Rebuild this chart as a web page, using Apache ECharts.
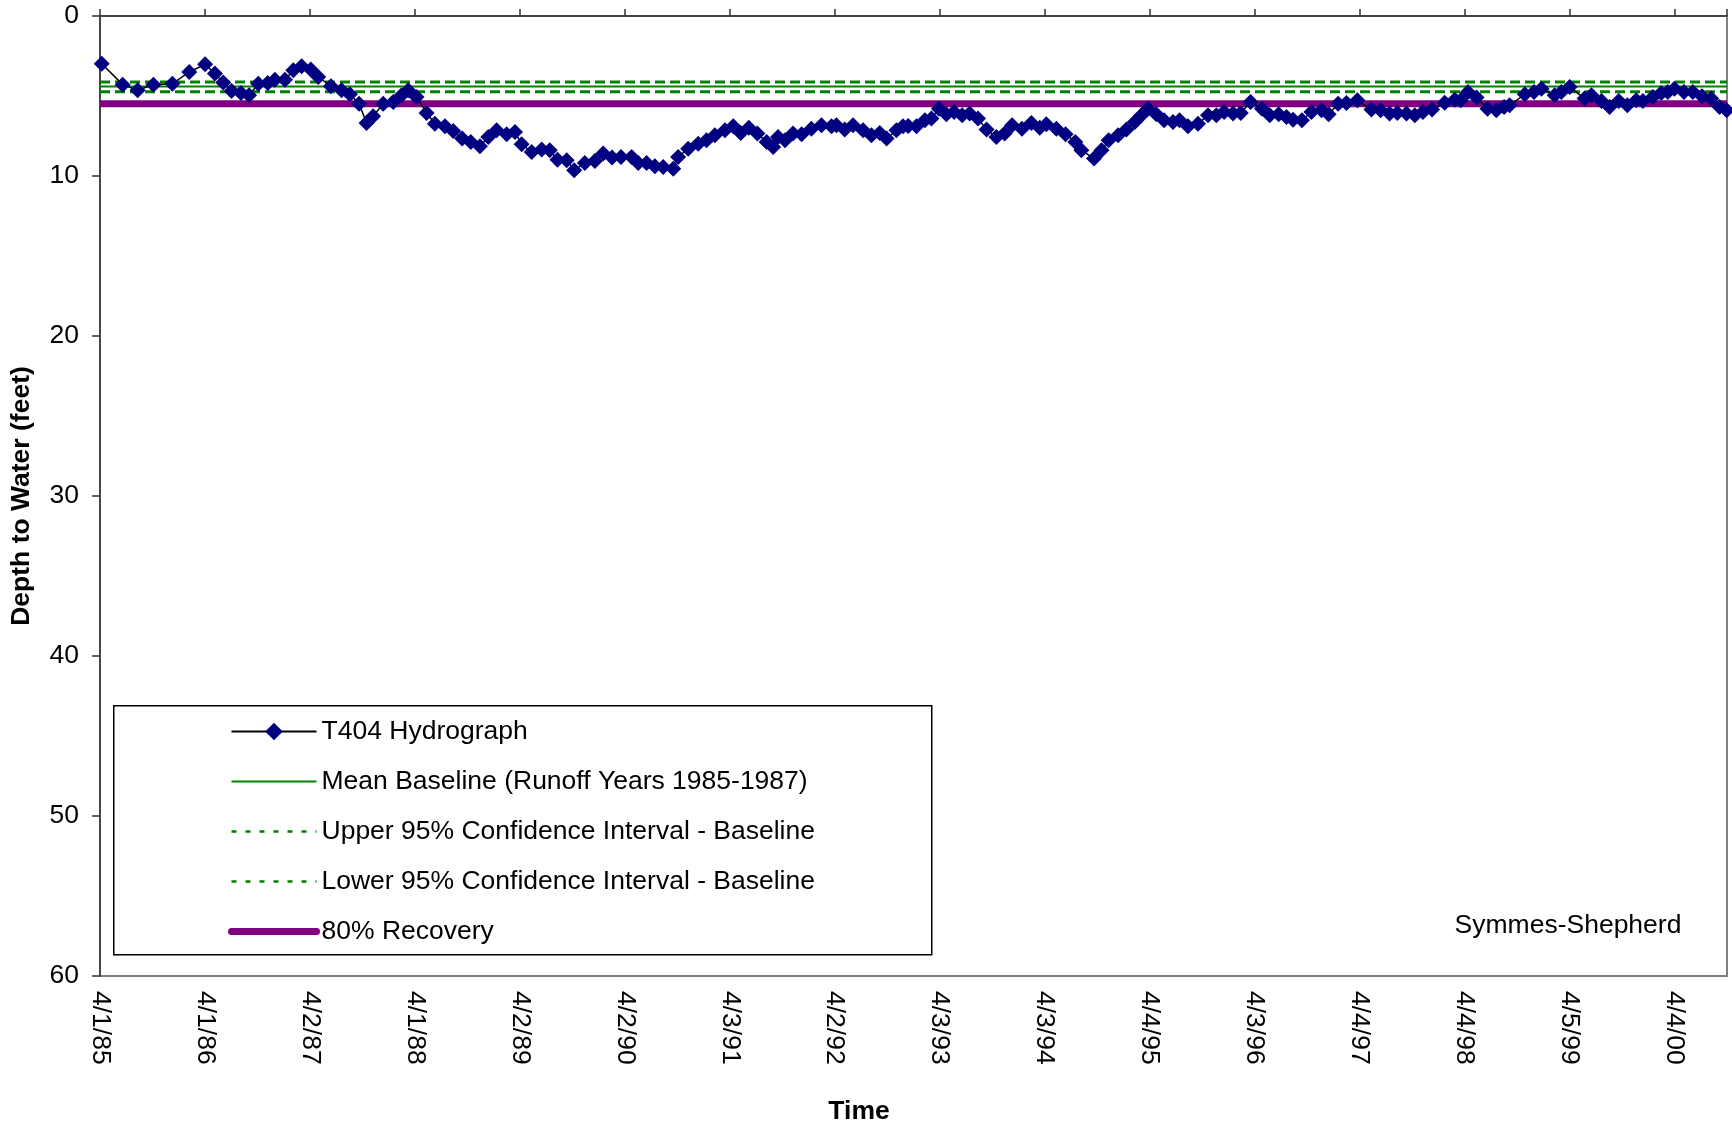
<!DOCTYPE html>
<html>
<head>
<meta charset="utf-8">
<script src="https://cdn.jsdelivr.net/npm/echarts@6/dist/echarts.min.js"></script>
<style>
html,body{margin:0;padding:0;background:#fff;}
#chart{width:1732px;height:1129px;}
</style>
</head>
<body>
<div id="chart"></div>
<script>
// X tick labels (axis ticks every 365.5 days from 4/1/85)
const tickLabels = ['4/1/85','4/1/86','4/2/87','4/1/88','4/2/89','4/2/90','4/3/91','4/2/92','4/3/93','4/3/94','4/4/95','4/3/96','4/4/97','4/4/98','4/5/99','4/4/00'];
const yTickLabels = ['0','10','20','30','40','50','60'];

// T404 hydrograph: days after 4/1/1985 and depth to water (feet)
const dayOffset = [6,79,131,186,252,311,366,400,429,458,491,519,551,584,609,644,673,702,734,760,
  804,841,870,902,928,951,986,1021,1050,1073,1102,1137,1166,1201,1230,1261,1291,1323,1352,1381,
  1416,1445,1468,1503,1538,1566,1593,1625,1651,1688,1723,1752,1783,1814,1851,1874,1903,1932,1961,1996,
  2013,2048,2083,2112,2141,2176,2205,2231,2259,2289,2321,2344,2361,2385,2413,2443,2477,2512,2547,2564,
  2593,2622,2657,2686,2715,2739,2773,2796,2814,2843,2872,2895,2921,2947,2974,3002,3028,3057,3087,3121,
  3150,3176,3210,3243,3272,3295,3330,3362,3396,3417,3461,3487,3512,3545,3574,3603,3626,3649,3678,3705,
  3736,3759,3788,3823,3858,3887,3914,3945,3972,4006,4046,4073,4104,4131,4154,4185,4218,4253,4278,4311,
  4340,4378,4427,4459,4490,4517,4549,4578,4606,4638,4682,4717,4738,4763,4793,4831,4862,4889,4908,4961,
  4993,5019,5065,5088,5117,5169,5193,5228,5256,5288,5318,5349,5372,5407,5436,5459,5482,5515,5546,5578,
  5610,5639,5664];
const depth = [2.98,4.29,4.64,4.29,4.23,3.50,3.02,3.60,4.16,4.69,4.81,4.96,4.23,4.18,3.98,3.98,3.39,3.14,3.35,3.81,
  4.39,4.64,4.89,5.48,6.68,6.27,5.48,5.37,4.96,4.64,5.06,6.06,6.73,6.89,7.19,7.66,7.87,8.14,7.56,7.14,
  7.39,7.25,8.02,8.50,8.35,8.39,8.98,9.02,9.64,9.19,9.06,8.60,8.85,8.81,8.81,9.18,9.19,9.39,9.44,9.54,
  8.81,8.29,7.98,7.77,7.46,7.14,6.89,7.31,6.98,7.35,7.87,8.19,7.56,7.77,7.35,7.39,7.04,6.83,6.89,6.83,
  7.10,6.83,7.14,7.46,7.31,7.66,7.14,6.89,6.88,6.89,6.52,6.41,5.79,6.14,6.00,6.21,6.10,6.41,7.10,7.56,
  7.35,6.83,7.04,6.69,6.98,6.77,7.04,7.39,7.87,8.39,8.91,8.39,7.77,7.46,7.10,6.62,6.21,5.79,6.14,6.52,
  6.62,6.52,6.89,6.73,6.21,6.21,6.00,6.10,6.06,5.37,5.79,6.21,6.14,6.31,6.48,6.52,6.00,5.89,6.14,5.48,
  5.43,5.27,5.85,5.89,6.10,6.06,6.10,6.21,6.00,5.85,5.42,5.23,5.27,4.75,5.10,5.79,5.89,5.69,5.58,4.89,
  4.75,4.54,4.96,4.75,4.43,5.16,4.96,5.31,5.69,5.31,5.58,5.27,5.31,5.06,4.81,4.75,4.54,4.75,4.75,5.02,
  5.16,5.69,5.89];

// Baseline statistics (feet)
const meanBaseline = 4.41;
const upperCI = 4.12;
const lowerCI = 4.73;
const recovery80 = 5.48;

const seriesNames = ['T404 Hydrograph', 'Mean Baseline (Runoff Years 1985-1987)', 'Upper 95% Confidence Interval - Baseline', 'Lower 95% Confidence Interval - Baseline', '80% Recovery'];

const xMin = 0, xMax = 5665, xInterval = 365.5;
const FONT = '"Liberation Sans", Arial, sans-serif';
const FS = 26.5;

const hydro = dayOffset.map((d, i) => [d, depth[i]]);
const hline = v => [[xMin, v], [xMax, v]];

function xLabel(v) {
  const k = Math.round(v / xInterval);
  if (Math.abs(v - k * xInterval) > 1e-6) return '';
  return tickLabels[k] || '';
}

const hidden = {opacity: 0};
const chart = echarts.init(document.getElementById('chart'), null, {renderer: 'canvas'});
chart.setOption({
  animation: false,
  backgroundColor: '#fff',
  grid: {left: 100, top: 16, right: 5, bottom: 153, show: true, borderColor: '#808080', borderWidth: 2, backgroundColor: '#fff'},
  xAxis: [
    {type: 'value', position: 'top', min: xMin, max: xMax, interval: xInterval,
     axisLine: {show: true, onZero: false, lineStyle: {color: '#333', width: 1.5}},
     axisTick: {show: true, inside: false, length: 7, lineStyle: {color: '#333', width: 1.5}},
     axisLabel: {show: false}, splitLine: {show: false}},
    {type: 'value', position: 'bottom', min: xMin, max: xMax, interval: xInterval,
     axisLine: {show: false}, axisTick: {show: false}, splitLine: {show: false},
     axisLabel: {show: true, rotate: -90, margin: 15, fontSize: FS, fontFamily: FONT, color: '#000', formatter: xLabel}}
  ],
  yAxis: {type: 'value', inverse: true, min: 0, max: 60, interval: 10, position: 'left',
    axisLine: {show: true, onZero: false, lineStyle: {color: '#333', width: 1.5}},
    axisTick: {show: true, inside: false, length: 8, lineStyle: {color: '#333', width: 1.5}},
    splitLine: {show: false},
    axisLabel: {margin: 21, fontSize: FS, fontFamily: FONT, color: '#000', formatter: v => yTickLabels[Math.round(v / 10)]}},
  legend: {
    orient: 'vertical', left: 228, top: 718, itemWidth: 85, itemHeight: 22, itemGap: 23, padding: 0,
    selectedMode: false,
    textStyle: {fontSize: FS, fontFamily: FONT, color: '#000'},
    data: [
      {name: seriesNames[0], itemStyle: {color: '#000080'}, lineStyle: {color: '#000', width: 2}},
      {name: seriesNames[1], itemStyle: hidden, lineStyle: {color: '#008000', width: 2}},
      {name: seriesNames[2], itemStyle: hidden, lineStyle: {color: '#008000', width: 2.5, type: [5, 9]}},
      {name: seriesNames[3], itemStyle: hidden, lineStyle: {color: '#008000', width: 2.5, type: [5, 9]}},
      {name: seriesNames[4], itemStyle: hidden, lineStyle: {color: '#800080', width: 7, cap: 'round'}}
    ]
  },
  series: [
    {name: seriesNames[4], type: 'line', data: hline(recovery80), symbol: 'none', z: 2,
     lineStyle: {color: '#800080', width: 7}, itemStyle: {color: '#800080'}},
    {name: seriesNames[1], type: 'line', data: hline(meanBaseline), symbol: 'none', z: 2,
     lineStyle: {color: '#008000', width: 2}, itemStyle: {color: '#008000'}},
    {name: seriesNames[2], type: 'line', data: hline(upperCI), symbol: 'none', z: 2,
     lineStyle: {color: '#008000', width: 3, type: [10, 5]}, itemStyle: {color: '#008000'}},
    {name: seriesNames[3], type: 'line', data: hline(lowerCI), symbol: 'none', z: 2,
     lineStyle: {color: '#008000', width: 3, type: [10, 5]}, itemStyle: {color: '#008000'}},
    {name: seriesNames[0], type: 'line', data: hydro, z: 3,
     symbol: 'diamond', symbolSize: 16,
     lineStyle: {color: '#000', width: 1.5}, itemStyle: {color: '#000080', borderWidth: 0}}
  ],
  graphic: [
    {type: 'rect', left: 113, top: 705, z: 1, shape: {width: 818, height: 249}, style: {fill: '#fff', stroke: '#000', lineWidth: 1.5}},
    {type: 'text', x: 22, y: 496, rotation: Math.PI / 2, style: {text: 'Depth to Water (feet)', font: 'bold ' + FS + 'px ' + FONT, fill: '#000', textAlign: 'center', textVerticalAlign: 'middle'}},
    {type: 'text', x: 859, y: 1112, style: {text: 'Time', font: 'bold ' + FS + 'px ' + FONT, fill: '#000', textAlign: 'center', textVerticalAlign: 'middle'}},
    {type: 'text', x: 1568, y: 926, style: {text: 'Symmes-Shepherd', font: FS + 'px ' + FONT, fill: '#000', textAlign: 'center', textVerticalAlign: 'middle'}}
  ]
});
</script>
</body>
</html>
